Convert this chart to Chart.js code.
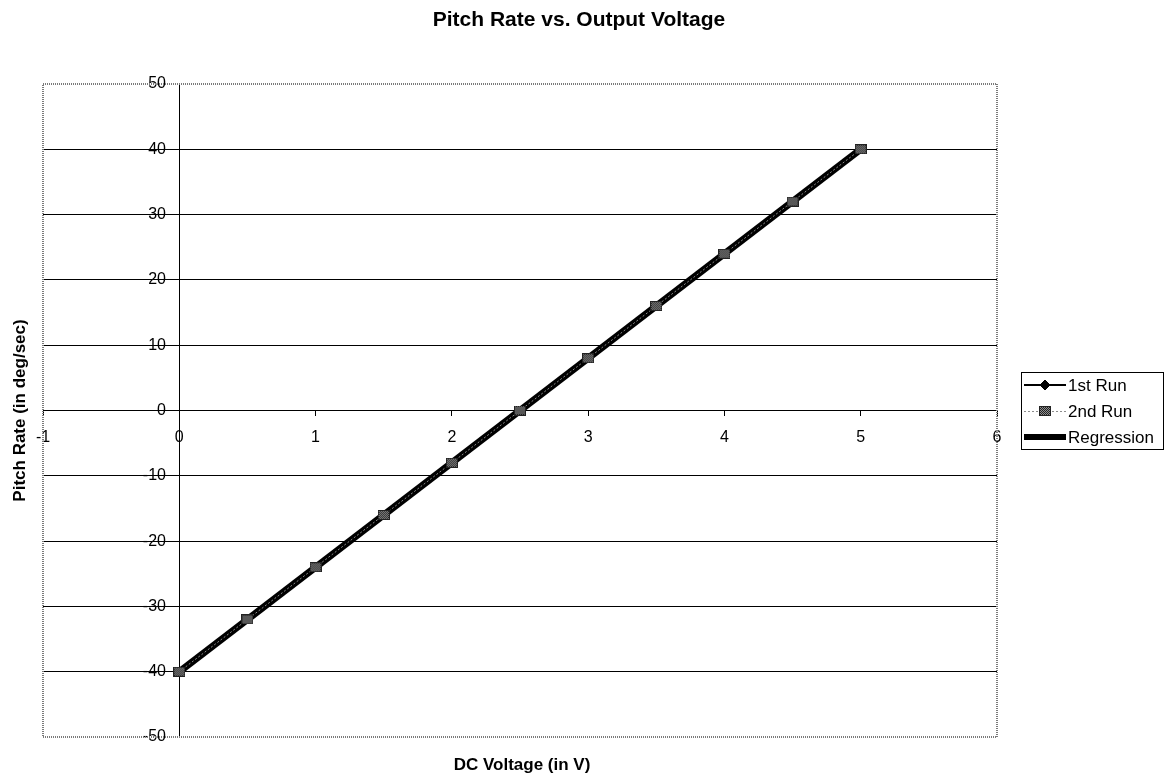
<!DOCTYPE html>
<html>
<head>
<meta charset="utf-8">
<title>Pitch Rate vs. Output Voltage</title>
<script src="https://cdn.jsdelivr.net/npm/chart.js@4/dist/chart.umd.min.js"></script>
<style>
  html, body { margin: 0; padding: 0; background: #fff; }
  #wrap { position: relative; width: 1164px; height: 783px; }
</style>
</head>
<body>
<div id="wrap"><canvas id="grafico"></canvas></div>
<script>
// ===== DATA =====
const voltage = [0, 0.5, 1, 1.5, 2, 2.5, 3, 3.5, 4, 4.5, 5];
const run1 = [-40, -32, -24, -16, -8, 0, 8, 16, 24, 32, 40];
const run2 = [-40, -32, -24, -16, -8, 0, 8, 16, 24, 32, 40];
const regressionX = [0, 5];
const regressionY = [-40, 40];

const xTicks = [-1, 0, 1, 2, 3, 4, 5, 6];
const yTicks = [-50, -40, -30, -20, -10, 0, 10, 20, 30, 40, 50];

const FONT = '"Liberation Sans", Arial, Helvetica, sans-serif';

function pares(xs, ys) {
  return xs.map((x, i) => ({ x, y: ys[i] }));
}

// ===== MARKER (textured grey square) =====
function marcadorQuadrado() {
  const c = document.createElement('canvas');
  c.width = 12;
  c.height = 10;
  const ctx = c.getContext('2d');
  ctx.fillStyle = '#222';
  ctx.fillRect(0, 0, 12, 10);
  ctx.fillStyle = '#8f8f8f';
  for (let y = 1; y < 9; y++) {
    for (let x = 1; x < 11; x++) {
      if ((x + y) % 2 === 0) ctx.fillRect(x, y, 1, 1);
    }
  }
  return c;
}
const squareMarker = marcadorQuadrado();

// ===== PLOT BORDER + TEXTS + LEGEND =====
const moldura = {
  id: 'moldura',
  beforeDatasetsDraw(chart) {
    const { ctx, chartArea: a } = chart;
    ctx.save();
    ctx.strokeStyle = '#7a7a7a';
    ctx.lineWidth = 2;
    ctx.setLineDash([1, 1]);
    ctx.strokeRect(a.left, a.top, a.right - a.left, a.bottom - a.top);
    ctx.restore();
  },
  afterDraw(chart) {
    const { ctx, chartArea: a } = chart;
    ctx.save();
    ctx.fillStyle = '#000';
    ctx.textAlign = 'center';
    ctx.textBaseline = 'middle';

    ctx.font = 'bold 21px ' + FONT;
    ctx.fillText('Pitch Rate vs. Output Voltage', 579, 20);

    ctx.font = 'bold 17px ' + FONT;
    ctx.fillText('DC Voltage (in V)', (a.left + a.right) / 2 + 2, 765);

    ctx.save();
    ctx.translate(20, (a.top + a.bottom) / 2);
    ctx.rotate(-Math.PI / 2);
    ctx.fillText('Pitch Rate (in deg/sec)', 0, 0);
    ctx.restore();

    // legend
    ctx.strokeStyle = '#000';
    ctx.lineWidth = 1;
    ctx.strokeRect(1021.5, 372.5, 142, 77);

    ctx.font = '17px ' + FONT;
    ctx.textAlign = 'left';
    chart.data.datasets.forEach((ds, i) => {
      const y = 385 + i * 26;
      const lw = ds.legendWidth || ds.borderWidth;
      ctx.save();
      ctx.strokeStyle = ds.borderColor;
      ctx.lineWidth = lw;
      ctx.setLineDash(ds.borderDash || []);
      ctx.beginPath();
      ctx.moveTo(1024, y + (lw % 2 ? 0.5 : 0));
      ctx.lineTo(1066, y + (lw % 2 ? 0.5 : 0));
      ctx.stroke();
      ctx.restore();
      if (ds.pointRadius > 0) {
        ctx.save();
        ctx.fillStyle = ds.pointBackgroundColor;
        ctx.strokeStyle = ds.pointBorderColor;
        Chart.helpers.drawPoint(ctx, {
          pointStyle: ds.pointStyle,
          radius: ds.pointRadius + 1,
          rotation: 0,
          borderWidth: 1
        }, 1045, y);
        ctx.restore();
      }
      ctx.fillStyle = '#000';
      ctx.fillText(ds.label, 1068, y + 1);
    });
    ctx.restore();
  }
};

// ===== CHART =====
new Chart(document.getElementById('grafico'), {
  type: 'scatter',
  data: {
    datasets: [
      {
        label: '1st Run',
        data: pares(voltage, run1),
        showLine: true,
        borderColor: '#000',
        borderWidth: 1,
        legendWidth: 2,
        pointStyle: 'rectRot',
        pointRadius: 4,
        pointBackgroundColor: '#000',
        pointBorderColor: '#000',
        order: 2
      },
      {
        label: '2nd Run',
        data: pares(voltage, run2),
        showLine: true,
        borderColor: '#8c8c8c',
        borderWidth: 1,
        borderDash: [2, 2],
        pointStyle: squareMarker,
        pointRadius: 5,
        pointBackgroundColor: '#555',
        pointBorderColor: '#222',
        order: 1
      },
      {
        label: 'Regression',
        data: pares(regressionX, regressionY),
        showLine: true,
        borderColor: '#000',
        borderWidth: 7,
        legendWidth: 6,
        pointRadius: 0,
        order: 3
      }
    ]
  },
  options: {
    responsive: true,
    maintainAspectRatio: false,
    animation: false,
    layout: { padding: { left: 43, right: 167, top: 84, bottom: 46 } },
    plugins: {
      legend: { display: false },
      title: { display: false },
      tooltip: { enabled: false }
    },
    scales: {
      x: {
        type: 'linear',
        position: { y: 0 },
        min: xTicks[0],
        max: xTicks[xTicks.length - 1],
        ticks: {
          stepSize: 1,
          color: '#000',
          padding: 12,
          font: { family: FONT, size: 16 }
        },
        grid: {
          drawOnChartArea: false,
          drawTicks: true,
          tickLength: 5,
          color: '#000'
        },
        border: { display: true, color: '#000', width: 1 }
      },
      y: {
        type: 'linear',
        position: { x: 0 },
        min: yTicks[0],
        max: yTicks[yTicks.length - 1],
        ticks: {
          stepSize: 10,
          color: '#000',
          font: { family: FONT, size: 16 },
          // labels sit left of the axis line: pad with trailing spaces
          callback: v => v + '   '
        },
        grid: {
          color: c => (c.tick && Math.abs(c.tick.value) === 50) ? 'rgba(0,0,0,0)' : '#000',
          tickLength: 5,
          lineWidth: 1
        },
        border: { display: true, color: '#000', width: 1 }
      }
    }
  },
  plugins: [moldura]
});
</script>
</body>
</html>
